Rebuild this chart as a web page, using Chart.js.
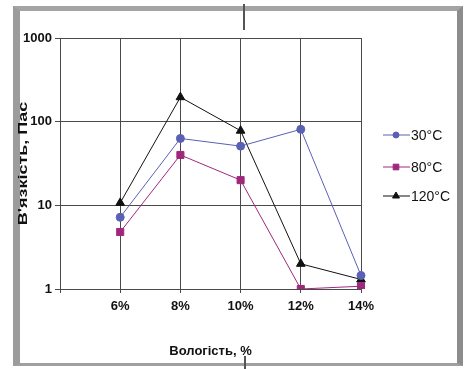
<!DOCTYPE html>
<html>
<head>
<meta charset="utf-8">
<script src="https://cdn.jsdelivr.net/npm/chart.js@4/dist/chart.umd.min.js"></script>
<style>
  body { margin: 0; background: #fff; }
  #wrap { position: relative; width: 470px; height: 369px; overflow: hidden; }
  .frame {
    position: absolute; left: 13px; top: 6px; width: 437px; height: 352px;
    border-left: 7px solid #9c9c9c; border-top: 5px solid #a4a4a4;
    border-right: 6px solid #8c8c8c; border-bottom: 3px solid #a0a0a0;
  }
  .mark { position: absolute; width: 2px; background: #555; }
  canvas { position: absolute; left: 0; top: 0; }
</style>
</head>
<body>
<div id="wrap">
  <div class="frame"></div>
  <div class="mark" style="left:243px;top:4px;height:26px"></div>
  <div class="mark" style="left:244px;top:356px;height:13px"></div>
  <canvas id="chart" width="470" height="369"></canvas>
</div>
<script>
// Вологість vs В'язкість
const categories = ['6%', '8%', '10%', '12%', '14%'];
const seriesNames = ['30°C', '80°C', '120°C'];
const v30 = [7.2, 63, 51, 81, 1.45];
const v80 = [4.8, 40, 20, 1, 1.08];
const v120 = [10.7, 196, 78, 2.0, 1.3];
const yTicks = [1, 10, 100, 1000];
const yTitle = 'В\'язкість, Пас';

const colors = ['#5a60b4', '#a0287c', '#111111'];
const styles = ['circle', 'rect', 'triangle'];
const radii = [4, 5, 5];
const FONT = '"Liberation Sans", Arial, sans-serif';

// leading empty slot so 6% sits one step in from the axis
const labels = [''].concat(categories);
const allValues = [v30, v80, v120];

const datasets = allValues.map((vals, i) => ({
  label: seriesNames[i],
  data: [null].concat(vals),
  borderColor: colors[i],
  backgroundColor: colors[i],
  borderWidth: 1,
  pointStyle: styles[i],
  pointRadius: radii[i],
  pointHoverRadius: radii[i],
  tension: 0,
}));

// legend drawn as line + marker like the original, plus stretched y title
const extras = {
  id: 'extras',
  afterDraw(chart) {
    const ctx = chart.ctx;
    const ys = [135, 167, 196];
    chart.data.datasets.forEach((ds, i) => {
      const y = ys[i];
      ctx.save();
      ctx.strokeStyle = ds.borderColor;
      ctx.lineWidth = 1;
      ctx.beginPath();
      ctx.moveTo(383, y);
      ctx.lineTo(410, y);
      ctx.stroke();
      ctx.fillStyle = ds.backgroundColor;
      Chart.helpers.drawPoint(ctx, { pointStyle: ds.pointStyle, radius: ds.pointRadius - 1, borderWidth: 1 }, 396, y);
      ctx.fillStyle = '#111';
      ctx.font = '14px ' + FONT;
      ctx.textBaseline = 'middle';
      ctx.fillText(ds.label, 411, y + 1);
      ctx.restore();
    });

    const area = chart.chartArea;
    ctx.save();
    ctx.translate(24, (area.top + area.bottom) / 2);
    ctx.rotate(-Math.PI / 2);
    ctx.scale(1.5, 1);
    ctx.font = 'bold 12px ' + FONT;
    ctx.fillStyle = '#111';
    ctx.textAlign = 'center';
    ctx.textBaseline = 'middle';
    ctx.fillText(yTitle, 0, 0);
    ctx.restore();
  }
};

new Chart(document.getElementById('chart').getContext('2d'), {
  type: 'line',
  data: { labels: labels, datasets: datasets },
  plugins: [extras],
  options: {
    responsive: false,
    animation: false,
    layout: { padding: { left: 0, right: 109, top: 38, bottom: 0 } },
    plugins: {
      legend: { display: false },
      tooltip: { enabled: false },
    },
    scales: {
      x: {
        type: 'category',
        offset: false,
        afterFit: (s) => { s.height = 80; },
        grid: { color: '#4a4a4a', lineWidth: 1, tickLength: 4 },
        border: { color: '#4a4a4a' },
        ticks: {
          color: '#111', padding: 6, maxRotation: 0, autoSkip: false,
          font: { family: FONT, size: 13, weight: 'bold' },
        },
        title: {
          display: true, text: 'Вологість, %', color: '#111',
          padding: { top: 0, bottom: 10 },
          font: { family: FONT, size: 13, weight: 'bold' },
        },
      },
      y: {
        type: 'logarithmic',
        min: 1, max: 1000,
        afterFit: (s) => { s.width = 60; },
        afterBuildTicks: (s) => { s.ticks = yTicks.map(v => ({ value: v })); },
        grid: { color: '#4a4a4a', lineWidth: 1, tickLength: 5 },
        border: { color: '#4a4a4a' },
        ticks: {
          color: '#111', padding: 3,
          callback: (v) => String(v),
          font: { family: FONT, size: 13, weight: 'bold' },
        },
        title: { display: false },
      },
    },
  },
});
</script>
</body>
</html>
